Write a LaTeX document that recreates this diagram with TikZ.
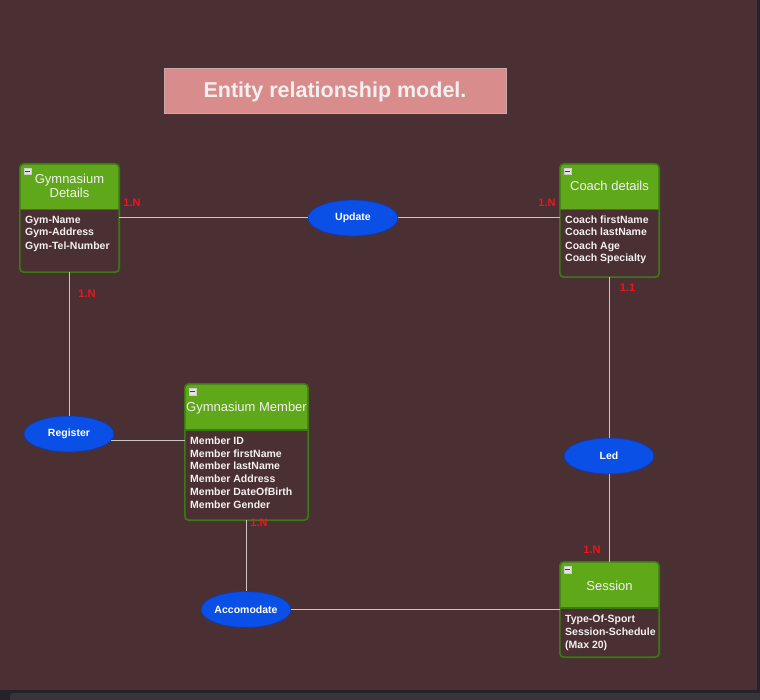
\documentclass[tikz,border=0pt]{standalone}
\usepackage{fontspec}
\setmainfont{Liberation Sans}
\usetikzlibrary{shapes.geometric,calc}
\definecolor{bgc}{HTML}{4A3033}
\definecolor{hdrg}{HTML}{5FA81A}
\definecolor{bordg}{HTML}{3B7A12}
\definecolor{ellb}{HTML}{0A50E6}
\definecolor{elld}{HTML}{1838A8}
\definecolor{linec}{HTML}{CCC4C4}
\definecolor{redl}{HTML}{F0141E}
\definecolor{titlef}{HTML}{D98C8C}
\definecolor{titled}{HTML}{C9A9AC}
\definecolor{txtw}{HTML}{F4F0F0}
\definecolor{barA}{HTML}{26222B}
\definecolor{barB}{HTML}{38343C}
\tikzset{
  x=1pt,y=-1pt,
  ebox/.style={draw=none,inner sep=0pt,rectangle},
  eborder/.style={draw=bordg,line width=1.6pt,rounded corners=4pt},
  hdrtext/.style={text=txtw,font=\fontsize{13}{14.5}\selectfont,anchor=base,align=center,inner sep=0pt},
  bodytext/.style={text=txtw,font=\bfseries\fontsize{10.5}{12}\selectfont,anchor=base west,align=left,inner sep=0pt},
  rel/.style={ellipse,draw=elld,line width=0.8pt,fill=ellb,minimum width=90pt,minimum height=36pt,inner sep=0pt,text=white,font=\bfseries\fontsize{10.5}{12}\selectfont},
  card/.style={text=redl,font=\bfseries\fontsize{11}{12}\selectfont,inner sep=0pt},
  conn/.style={draw=linec,line width=1pt},
  iconbox/.style={draw=white!60!gray,fill=white!78!gray,minimum width=7.5pt,minimum height=6.5pt,inner sep=0pt,line width=0.5pt,
    path picture={\draw[black!75,line width=1pt] ([xshift=1.3pt]path picture bounding box.west) -- ([xshift=-1.3pt]path picture bounding box.east);}},
}
\newcommand\mkentity[2]{% name, header height
  \begin{scope}
    \clip[rounded corners=4pt] (#1.north west) rectangle (#1.south east);
    \fill[bgc] (#1.north west) rectangle (#1.south east);
    \fill[hdrg] (#1.north west) rectangle ([yshift=-#2]#1.north east);
  \end{scope}
  \draw[bordg,line width=1.4pt] ([yshift=-#2]#1.north west) -- ([yshift=-#2]#1.north east);
  \draw[eborder] (#1.north west) rectangle (#1.south east);
}
\begin{document}
\begin{tikzpicture}
\fill[bgc] (0,0) rectangle (760,700);
\useasboundingbox (0,0) rectangle (760,700);
\fill[barA] (0,690) rectangle (760,700);
\fill[barB,rounded corners=3pt] (10,693) rectangle (770,704);
\fill[barA] (757,0) rectangle (760,690);

% title
\node[draw=titled,fill=titlef,line width=1pt,minimum width=342pt,minimum height=45pt,inner sep=0pt,
  text=txtw,font=\bfseries\fontsize{21.5}{24}\selectfont] (title) at (335,91.5) {Entity relationship model.};

% entities
\node[ebox,minimum width=99pt,minimum height=108pt] (gym) at (69.5,218) {};
\mkentity{gym}{46pt}
\node[ebox,minimum width=99pt,minimum height=113pt] (coach) at (609.5,220.5) {};
\mkentity{coach}{46pt}
\node[ebox,minimum width=123pt,minimum height=136pt] (member) at (246.5,452) {};
\mkentity{member}{46pt}
\node[ebox,minimum width=99pt,minimum height=95pt] (session) at (609.5,609.5) {};
\mkentity{session}{46pt}

\node[iconbox] (gymicon) at (27.5,171.5) {};
\node[iconbox] (coachicon) at (567.5,171.5) {};
\node[iconbox] (membericon) at (192.5,391.5) {};
\node[iconbox] (sessionicon) at (567.5,569.5) {};

% multi-line nodes: base anchor sits on the last line
\node[hdrtext] (gymh) at (69.5,197.7) {Gymnasium\\Details};
\node[hdrtext] (coachh) at (609.5,191) {Coach details};
\node[hdrtext] (memberh) at (246.5,411) {Gymnasium Member};
\node[hdrtext] (sessionh) at (609.5,590) {Session};

\node[bodytext] (gymb) at (25,250) {Gym-Name\\Gym-Address\\[2pt]Gym-Tel-Number};
\node[bodytext] (coachb) at (565,262) {Coach firstName\\Coach lastName\\[2pt]Coach Age\\Coach Specialty};
\node[bodytext,font=\bfseries\fontsize{10.5}{12.8}\selectfont] (memberb) at (190,508.3) {Member ID\\Member firstName\\Member lastName\\Member Address\\Member DateOfBirth\\Member Gender};
\node[bodytext,font=\bfseries\fontsize{10.5}{13}\selectfont] (sessionb) at (565,648.7) {Type-Of-Sport\\Session-Schedule\\(Max 20)};

% relationships
\node[rel] (update) at (353,218) {Update};
\node[rel] (register) at (69,434) {Register};
\node[rel] (led) at (609,456) {Led};
\node[rel] (accom) at (246,609.5) {Accomodate};

% connectors
\draw[conn] (gym.east) -- (update.west);
\draw[conn] (update.east) -- (update.east -| coach.west);
\draw[conn] (gym.south -| register.north) -- (register.north);
\draw[conn] (register.-9) -- (register.-9 -| member.west);
\draw[conn] (member.south) -- (accom.north -| member.south);
\draw[conn] (accom.east) -- (accom.east -| session.west);
\draw[conn] (coach.south -| led.north) -- (led.north);
\draw[conn] (led.south) -- (led.south |- session.north);

% cardinalities
\node[card] (c1) at (132,203) {1.N};
\node[card] (c2) at (547,203) {1.N};
\node[card] (c3) at (87,293.5) {1.N};
\node[card] (c4) at (627.5,287.5) {1.1};
\node[card] (c5) at (259,523) {1.N};
\node[card] (c6) at (592,550) {1.N};
\end{tikzpicture}
\end{document}
